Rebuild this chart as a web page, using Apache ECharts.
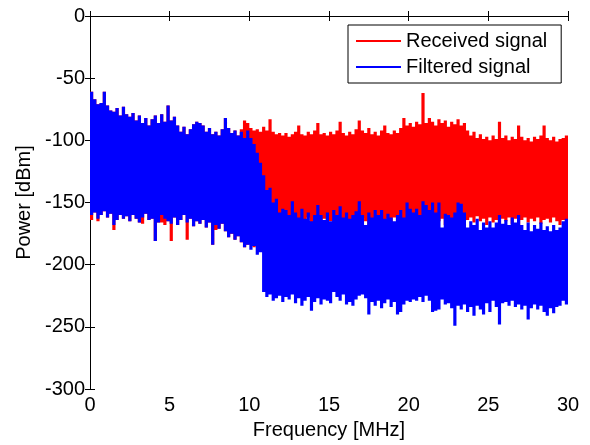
<!DOCTYPE html>
<html>
<head>
<meta charset="utf-8">
<script src="https://cdn.jsdelivr.net/npm/echarts@6/dist/echarts.min.js"></script>
<style>html,body{margin:0;padding:0;background:#fff}#c{width:590px;height:445px}</style>
</head>
<body>
<div id="c"></div>
<script>
// Spectrum envelopes, one value per 0.2 MHz bin (0 .. 30 MHz), in dBm
const binWidth = 0.2;
const xTicks = [0, 5, 10, 15, 20, 25, 30];
const yTicks = [0, -50, -100, -150, -200, -250, -300];
const seriesNames = ['Received signal', 'Filtered signal'];

const receivedTop = [
-61,-67,-71,-70,-61,-72,-76,-77,-74,-80,
-73,-79,-81,-78,-84,-80,-86,-82,-88,-83,
-80,-86,-79,-85,-72,-84,-81,-88,-93,-89,
-95,-91,-87,-85,-86,-88,-93,-90,-95,-93,
-96,-91,-82,-90,-94,-92,-96,-91,-84,-86,
-90,-92,-91,-93,-89,-92,-83,-93,-95,-94,
-96,-94,-97,-95,-93,-88,-95,-96,-93,-95,
-92,-86,-95,-94,-96,-93,-95,-92,-85,-94,
-96,-93,-95,-91,-84,-92,-94,-90,-95,-93,
-96,-92,-88,-94,-95,-92,-94,-90,-82,-88,
-86,-89,-85,-87,-62,-86,-82,-85,-88,-83,
-86,-84,-89,-85,-87,-83,-88,-86,-92,-96,
-93,-98,-95,-99,-97,-100,-96,-99,-85,-98,
-96,-100,-97,-99,-88,-97,-100,-98,-101,-97,
-99,-96,-88,-98,-100,-97,-101,-99,-98,-96
];
const receivedBottom = [
-164,-158,-165,-160,-157,-162,-159,-172,-164,-160,
-163,-161,-165,-160,-163,-166,-167,-159,-164,-163,
-181,-166,-166,-168,-165,-181,-162,-168,-164,-160,
-180,-163,-169,-165,-167,-164,-170,-166,-184,-172,
-171,-167,-173,-178,-175,-180,-177,-182,-186,-184,
-182,-186,-180,-178,-170,-165,-168,-163,-167,-165,
-169,-164,-166,-170,-163,-167,-165,-168,-162,-166,
-170,-164,-167,-163,-169,-165,-166,-162,-168,-165,
-163,-167,-164,-169,-166,-162,-165,-168,-163,-167,
-164,-169,-165,-163,-168,-162,-166,-164,-170,-165,
-167,-163,-168,-165,-170,-164,-166,-162,-169,-165,
-163,-168,-166,-164,-170,-165,-162,-167,-164,-162,
-166,-161,-165,-163,-168,-162,-166,-164,-170,-163,
-165,-162,-167,-163,-168,-164,-162,-166,-163,-165,
-162,-167,-164,-163,-166,-162,-165,-168,-164,-166
];
const filteredTop = [
-61,-67,-71,-70,-61,-72,-76,-77,-74,-80,
-73,-79,-81,-78,-84,-80,-86,-82,-88,-83,
-80,-86,-79,-85,-72,-84,-81,-88,-93,-89,
-95,-91,-87,-85,-86,-88,-93,-90,-95,-93,
-96,-91,-82,-90,-94,-92,-96,-93,-98,-92,
-98,-103,-110,-118,-128,-140,-138,-150,-147,-158,
-155,-156,-160,-149,-158,-162,-155,-163,-158,-165,
-160,-152,-160,-164,-158,-165,-156,-160,-153,-162,
-158,-163,-160,-157,-149,-160,-168,-158,-162,-156,
-160,-156,-163,-159,-162,-165,-160,-156,-162,-150,
-155,-158,-155,-160,-149,-152,-156,-150,-158,-150,
-170,-159,-160,-162,-158,-150,-151,-158,-170,-165,
-168,-163,-172,-166,-170,-165,-170,-166,-160,-167,
-164,-168,-162,-166,-160,-168,-172,-166,-173,-168,
-171,-166,-172,-169,-173,-168,-172,-170,-165,-163
];
const filteredBottom = [
-160,-158,-163,-160,-157,-162,-159,-168,-164,-160,
-163,-161,-165,-160,-163,-166,-162,-159,-164,-163,
-181,-166,-160,-163,-165,-167,-162,-168,-164,-160,
-166,-163,-169,-165,-167,-164,-170,-166,-184,-168,
-171,-167,-173,-178,-175,-180,-177,-182,-186,-184,
-188,-185,-192,-190,-222,-226,-224,-229,-227,-225,
-230,-226,-228,-224,-231,-227,-233,-229,-226,-237,
-230,-227,-232,-228,-229,-231,-222,-226,-229,-224,
-232,-230,-233,-228,-225,-224,-227,-240,-230,-233,
-229,-235,-231,-228,-234,-230,-240,-238,-232,-229,
-230,-228,-229,-226,-230,-225,-229,-238,-237,-236,
-228,-232,-231,-235,-249,-233,-236,-232,-238,-234,
-241,-233,-236,-240,-231,-238,-229,-234,-248,-231,
-230,-233,-229,-234,-232,-236,-233,-244,-235,-232,
-236,-233,-238,-241,-235,-239,-234,-233,-229,-232
];

function toData(top, bottom) {
  return top.map((t, i) => [i * binWidth, t, bottom[i]]);
}

// one step-shaped polygon per series: upper envelope left->right, lower envelope right->left
function bandSeries(name, color, top, bottom) {
  const data = toData(top, bottom);
  return {
    name: name,
    type: 'custom',
    clip: true,
    itemStyle: { color: color },
    encode: { x: 0, y: [1, 2] },
    data: data,
    renderItem: function (params, api) {
      if (params.dataIndex !== 0) return null;
      const pts = [];
      for (let i = 0; i < data.length; i++) {
        const x0 = data[i][0], x1 = x0 + binWidth;
        pts.push(api.coord([x0, data[i][1]]));
        pts.push(api.coord([x1, data[i][1]]));
      }
      for (let i = data.length - 1; i >= 0; i--) {
        const x0 = data[i][0], x1 = x0 + binWidth;
        pts.push(api.coord([x1, data[i][2]]));
        pts.push(api.coord([x0, data[i][2]]));
      }
      return {
        type: 'polygon',
        shape: { points: pts },
        style: { fill: color, stroke: null }
      };
    }
  };
}

const font = 'Liberation Sans, Arial, sans-serif';
const axisCommon = {
  axisLine: { show: true, lineStyle: { color: '#000', width: 1 } },
  axisTick: { show: true, inside: true, length: 5, lineStyle: { color: '#000' } },
  splitLine: { show: false }
};

const chart = echarts.init(document.getElementById('c'), null, { renderer: 'canvas' });
chart.setOption({
  animation: false,
  backgroundColor: '#fff',
  grid: { left: 90, right: 22, top: 16, bottom: 53 },
  legend: {
    data: seriesNames,
    orient: 'vertical',
    left: 348,
    top: 25,
    backgroundColor: '#fff',
    borderColor: '#000',
    borderWidth: 1,
    borderRadius: 0,
    padding: [6, 14, 6, 8],
    itemGap: 6,
    itemWidth: 45,
    itemHeight: 2,
    icon: 'rect',
    textStyle: { fontFamily: font, fontSize: 20, color: '#000' }
  },
  xAxis: [
    Object.assign({
      type: 'value', min: 0, max: 30, interval: 5,
      name: 'Frequency [MHz]', nameLocation: 'middle', nameGap: 30,
      nameTextStyle: { fontFamily: font, fontSize: 20, color: '#000' },
      axisLabel: { fontFamily: font, fontSize: 20, color: '#000', margin: 6,
        formatter: v => xTicks.includes(v) ? String(v) : '' }
    }, axisCommon),
    Object.assign({
      type: 'value', min: 0, max: 30, interval: 5, position: 'top',
      axisLabel: { show: false }
    }, axisCommon)
  ],
  yAxis: [
    Object.assign({
      type: 'value', min: -300, max: 0, interval: 50,
      name: 'Power [dBm]', nameLocation: 'middle', nameGap: 53,
      nameTextStyle: { fontFamily: font, fontSize: 20, color: '#000' },
      axisLabel: { fontFamily: font, fontSize: 20, color: '#000', margin: 5,
        formatter: v => yTicks.includes(v) ? String(v) : '' }
    }, axisCommon),
    Object.assign({
      type: 'value', min: -300, max: 0, interval: 50, position: 'right',
      axisLabel: { show: false }
    }, axisCommon)
  ],
  series: [
    bandSeries(seriesNames[0], '#ff0000', receivedTop, receivedBottom),
    bandSeries(seriesNames[1], '#0000ff', filteredTop, filteredBottom)
  ]
});
</script>
</body>
</html>
